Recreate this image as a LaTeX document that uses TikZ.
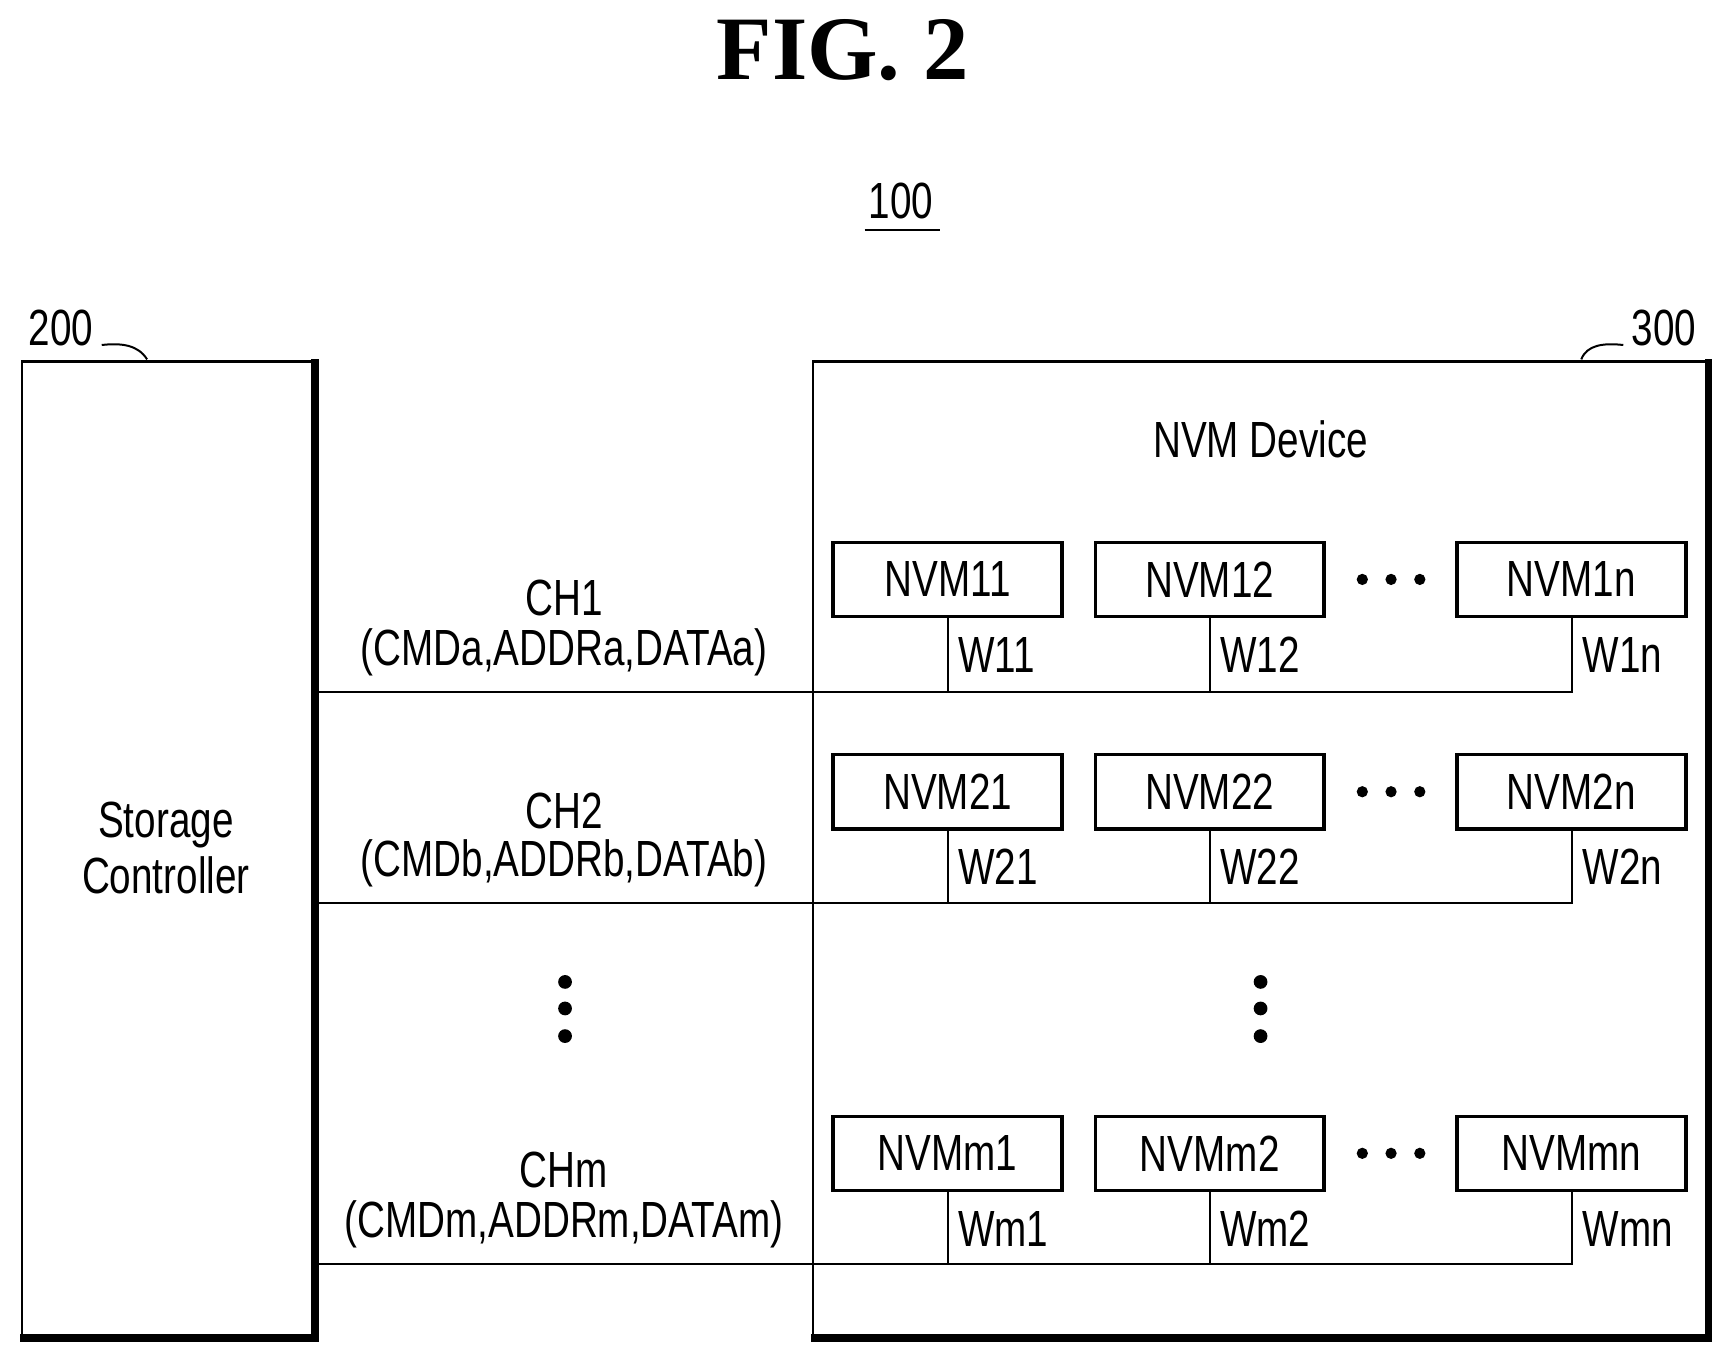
\documentclass[tikz,border=0pt]{standalone}
\usepackage{fontspec}
\setmainfont[FakeStretch=0.76]{Liberation Sans}
\newfontfamily\titlefont{Liberation Serif}
\begin{document}
\begin{tikzpicture}[x=0.5pt,y=-0.5pt,
  lbl/.style={inner sep=0pt,font=\fontsize{23}{27}\selectfont},
  nvm/.style={draw,line width=1.6pt,minimum width=103.5pt,minimum height=33.5pt,inner sep=0pt,font=\fontsize{23}{27}\selectfont},
  wire/.style={line width=0.9pt},
  dot/.style={circle,fill,inner sep=2.2pt}]
\useasboundingbox (0,0) rectangle (1560,1225);
\node[inner sep=0pt,font=\titlefont\bfseries\fontsize{41}{45}\selectfont] (fig) at (762,45) {FIG. 2};
\node[lbl] (n100) at (815,182) {100};
\draw[line width=1pt] (782,208) -- (850,208);
% boxes
\draw[line width=1.1pt] (20,1210) -- (20,327) -- (285,327);
\draw[line width=3.5pt] (285,325) -- (285,1210) -- (18,1210);
\coordinate (sc) at (152,767);
\node[lbl,align=center] (sctext) at (150,767) {Storage\\[-2pt]Controller};
\draw[line width=1.1pt] (735,1210) -- (735,327) -- (1545,327);
\draw[line width=3.5pt] (1545,325) -- (1545,1210) -- (733,1210);
\node[lbl] (l200) at (55,297) {200};
\draw[wire] (92,312) .. controls (110,310) and (125,312) .. (133,325);
\node[lbl] (l300) at (1505,297) {300};
\draw[wire] (1468,312) .. controls (1450,310) and (1435,312) .. (1430,325);
\node[lbl] (nvmdev) at (1140,397) {NVM Device};
% rows
\foreach \r/\yb/\yc/\ya/\yl/\i/\C/\L in {1/524/626/541/590/1/1/a,2/716/817/733/781/2/2/b,3/1043/1143/1058/1107/m/m/m}{
  \node[nvm] (b\r1) at (857,\yb) {NVM\i1};
  \node[nvm] (b\r2) at (1094,\yb) {NVM\i2};
  \node[nvm] (b\r3) at (1421,\yb) {NVM\i n};
  \node[lbl] (ch\r) at (510,\ya) {CH\C};
  \node[lbl] (cd\r) at (510,\yl) {(CMD\L,ADDR\L,DATA\L)};
  \coordinate (e\r) at (287,\yc);
  \coordinate (k\r) at (1422,\yc);
  \draw[wire] (e\r) -- (k\r) -- (b\r3.south -| k\r);
  \draw[wire] (b\r1.south) -- (b\r1.south |- k\r);
  \draw[wire] (b\r2.south) -- (b\r2.south |- k\r);
  \node[lbl,anchor=west] (w\r1) at (866,\yb+68) {W\i1};
  \node[lbl,anchor=west] (w\r2) at (1103,\yb+68) {W\i2};
  \node[lbl,anchor=west] (w\r3) at (1431,\yb+68) {W\i n};
  \foreach \dx in {-26,0,26} \node[dot,inner sep=1.8pt] at (1258+\dx,\yb) {};
}
\foreach \dy in {888,912,937}{
  \node[dot] at (511,\dy) {};
  \node[dot] at (1140,\dy) {};
}
\end{tikzpicture}
\end{document}
